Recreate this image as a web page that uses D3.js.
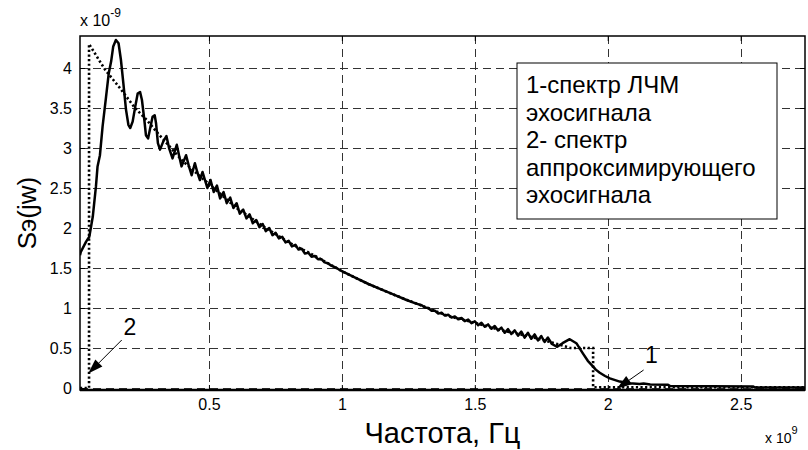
<!DOCTYPE html>
<html>
<head>
<meta charset="utf-8">
<script src="https://cdn.jsdelivr.net/npm/d3@7"></script>
<style>
body { margin: 0; background: #fff; }
text { font-family: Arial, "Liberation Sans", sans-serif; fill: #000; }
</style>
</head>
<body>
<svg></svg>
<script>
// frequency in units of 1e9 Hz, spectrum in units of 1e-9
var xTicks = [0.5, 1, 1.5, 2, 2.5];
var yTicks = [0, 0.5, 1, 1.5, 2, 2.5, 3, 3.5, 4];

// 1 - spectrum of the LFM echo signal (solid)
var echoSpectrum = [
    [0.015, 1.66], [0.018, 1.70], [0.038, 1.83], [0.050, 1.89], [0.063, 2.14], [0.075, 2.52],
    [0.081, 2.77], [0.090, 2.91], [0.100, 3.27], [0.113, 3.64], [0.123, 3.93], [0.132, 4.08],
    [0.140, 4.27], [0.150, 4.35], [0.160, 4.31], [0.169, 4.10], [0.178, 3.81], [0.188, 3.48],
    [0.197, 3.29], [0.204, 3.25], [0.213, 3.33], [0.223, 3.52], [0.232, 3.68], [0.241, 3.70],
    [0.248, 3.60], [0.257, 3.35], [0.263, 3.16], [0.271, 3.12], [0.278, 3.23], [0.288, 3.39],
    [0.296, 3.41], [0.301, 3.31], [0.308, 3.06], [0.316, 2.98], [0.328, 3.08], [0.340, 3.15],
    [0.350, 3.00], [0.363, 2.87], [0.379, 3.04], [0.388, 2.90], [0.397, 2.77], [0.414, 2.91],
    [0.424, 2.78], [0.435, 2.66], [0.447, 2.81], [0.456, 2.70], [0.466, 2.60], [0.476, 2.70],
    [0.485, 2.60], [0.494, 2.50], [0.506, 2.60], [0.518, 2.45], [0.530, 2.53], [0.542, 2.37],
    [0.555, 2.45], [0.567, 2.31], [0.580, 2.38], [0.592, 2.25], [0.604, 2.31], [0.616, 2.18],
    [0.629, 2.23], [0.641, 2.12], [0.653, 2.17], [0.665, 2.06], [0.678, 2.10], [0.690, 2.01],
    [0.702, 2.05], [0.714, 1.96], [0.727, 2.00], [0.739, 1.91], [0.751, 1.94], [0.763, 1.87],
    [0.776, 1.89], [0.788, 1.82], [0.800, 1.84], [0.812, 1.77], [0.825, 1.79], [0.837, 1.73],
    [0.849, 1.74], [0.861, 1.68], [0.874, 1.69], [0.886, 1.64], [0.898, 1.65], [0.910, 1.61],
    [0.923, 1.61], [0.935, 1.57], [0.947, 1.56], [0.960, 1.53], [0.980, 1.50], [1.000, 1.46],
    [1.050, 1.38], [1.100, 1.30], [1.150, 1.23], [1.200, 1.16], [1.243, 1.10], [1.280, 1.055],
    [1.300, 1.035], [1.3125, 1.005], [1.325, 1.0], [1.3375, 0.965], [1.350, 0.965], [1.3625, 0.93],
    [1.375, 0.94], [1.3875, 0.905], [1.400, 0.915], [1.4125, 0.88], [1.425, 0.895], [1.4375, 0.86],
    [1.450, 0.875], [1.4625, 0.835], [1.475, 0.855], [1.4875, 0.81], [1.500, 0.835], [1.5125, 0.785],
    [1.525, 0.815], [1.5375, 0.765], [1.550, 0.795], [1.5625, 0.74], [1.575, 0.775], [1.5875, 0.72],
    [1.600, 0.755], [1.6125, 0.69], [1.625, 0.735], [1.6375, 0.675], [1.650, 0.72], [1.6625, 0.655],
    [1.675, 0.705], [1.6875, 0.63], [1.700, 0.69], [1.7125, 0.615], [1.725, 0.67], [1.7375, 0.595],
    [1.750, 0.65], [1.7625, 0.575], [1.775, 0.63], [1.790, 0.55], [1.810, 0.515], [1.830, 0.56],
    [1.857, 0.61], [1.882, 0.56], [1.907, 0.43], [1.925, 0.34], [1.939, 0.29], [1.955, 0.23],
    [1.970, 0.19], [1.990, 0.15], [2.008, 0.12], [2.045, 0.08], [2.083, 0.06], [2.120, 0.05],
    [2.135, 0.055], [2.160, 0.045], [2.227, 0.04], [2.235, 0.025], [2.546, 0.02], [2.555, 0.005],
    [2.742, 0.005]
];

// 2 - spectrum of the approximating echo signal (dotted)
var approxSpectrum = [
    [0.015, 0.0], [0.049, 0.0], [0.049, 4.30], [0.109, 3.98], [0.165, 3.75], [0.222, 3.50],
    [0.266, 3.35], [0.309, 3.18], [0.341, 3.06], [0.400, 2.84], [0.500, 2.55], [0.600, 2.26],
    [0.700, 2.03], [0.800, 1.82], [0.900, 1.65], [1.000, 1.46], [1.100, 1.30], [1.200, 1.16],
    [1.300, 1.03], [1.400, 0.90], [1.500, 0.815], [1.600, 0.72], [1.700, 0.65], [1.800, 0.56],
    [1.860, 0.50], [1.945, 0.50], [1.945, 0.01], [2.742, 0.01]
];

var legendLines = ["1-спектр ЛЧМ", "эхосигнала", "2- спектр", "аппроксимирующего", "эхосигнала"];

var annotations = [
    {label: "2", tip: [0.046, 0.18], tail: [0.172, 0.60], text: [0.203, 0.76]},
    {label: "1", tip: [2.034, -0.01], tail: [2.135, 0.225], text: [2.164, 0.41]}
];

var width = 808, height = 450;
var margin = {top: 36, right: 3, bottom: 60, left: 80};
var w = width - margin.left - margin.right;
var h = height - margin.top - margin.bottom;

var svg = d3.select("svg")
    .attr("width", width)
    .attr("height", height);

var g = svg.append("g")
    .attr("transform", "translate(" + margin.left + "," + margin.top + ")");

var x = d3.scaleLinear().domain([0.015, 2.742]).range([0, w]);
var y = d3.scaleLinear().domain([-0.025, 4.4]).range([h, 0]);

// grid
g.append("g")
    .selectAll("line")
    .data(yTicks)
    .enter()
    .append("line")
    .attr("x1", 0)
    .attr("x2", w)
    .attr("y1", function (d) { return Math.round(y(d)) + 0.5; })
    .attr("y2", function (d) { return Math.round(y(d)) + 0.5; })
    .attr("stroke", "#333")
    .attr("stroke-width", 1)
    .attr("stroke-dasharray", "8,5");

g.append("g")
    .selectAll("line")
    .data(xTicks)
    .enter()
    .append("line")
    .attr("y1", 0)
    .attr("y2", h)
    .attr("x1", function (d) { return Math.round(x(d)) + 0.5; })
    .attr("x2", function (d) { return Math.round(x(d)) + 0.5; })
    .attr("stroke", "#333")
    .attr("stroke-width", 1)
    .attr("stroke-dasharray", "8,5");

// axes with inward ticks
var xAxis = d3.axisBottom(x).tickValues(xTicks).tickSize(-5).tickPadding(9).tickFormat(d3.format(""));
var yAxis = d3.axisLeft(y).tickValues(yTicks).tickSize(-5).tickPadding(8).tickFormat(d3.format(""));

g.append("g")
    .attr("transform", "translate(0," + h + ")")
    .call(xAxis);
g.append("g").call(yAxis);

g.append("g")
    .call(d3.axisTop(x).tickValues(xTicks).tickSize(-5).tickFormat(""));
g.append("g").attr("transform", "translate(" + w + ",0)")
    .call(d3.axisRight(y).tickValues(yTicks).tickSize(-5).tickFormat(""));

g.selectAll(".domain").remove();
g.selectAll(".tick line").attr("stroke", "#000").attr("stroke-width", 1);
g.selectAll(".tick text").style("font-size", "16px").attr("fill", "#000");

// box
g.append("rect")
    .attr("x", 0)
    .attr("y", 0)
    .attr("width", w)
    .attr("height", h)
    .attr("fill", "none")
    .attr("stroke", "#000")
    .attr("stroke-width", 1.5);
g.append("line")
    .attr("x1", 0).attr("x2", w)
    .attr("y1", h).attr("y2", h)
    .attr("stroke", "#000")
    .attr("stroke-width", 2.5);

// curves
g.append("clipPath").attr("id", "clip")
    .append("rect").attr("width", w).attr("height", h + 2);

var line = d3.line()
    .x(function (d) { return x(d[0]); })
    .y(function (d) { return y(d[1]); });

g.append("path")
    .datum(approxSpectrum)
    .attr("clip-path", "url(#clip)")
    .attr("d", line)
    .attr("fill", "none")
    .attr("stroke", "#000")
    .attr("stroke-width", 2.6)
    .attr("stroke-dasharray", "2.2,2.4");

g.append("path")
    .datum(echoSpectrum)
    .attr("clip-path", "url(#clip)")
    .attr("d", line)
    .attr("fill", "none")
    .attr("stroke", "#000")
    .attr("stroke-width", 2.5)
    .attr("stroke-linejoin", "round");

// legend
var legend = g.append("g").attr("transform", "translate(" + (517 - margin.left) + "," + (63 - margin.top) + ")");
legend.append("rect")
    .attr("width", 260)
    .attr("height", 156)
    .attr("fill", "#fff")
    .attr("stroke", "#000")
    .attr("stroke-width", 1);
legend.selectAll("text")
    .data(legendLines)
    .enter()
    .append("text")
    .attr("x", 9)
    .attr("y", function (d, i) { return 30 + i * 27.5; })
    .style("font-size", "24px")
    .text(function (d) { return d; });

// annotations
annotations.forEach(function (a) {
    var x1 = x(a.tail[0]), y1 = y(a.tail[1]);
    var x2 = x(a.tip[0]), y2 = y(a.tip[1]);
    var ang = Math.atan2(y2 - y1, x2 - x1);
    var len = 15, half = 5;
    var bx = x2 - len * Math.cos(ang), by = y2 - len * Math.sin(ang);
    g.append("line")
        .attr("x1", x1).attr("y1", y1)
        .attr("x2", bx).attr("y2", by)
        .attr("stroke", "#000")
        .attr("stroke-width", 1);
    g.append("path")
        .attr("d", "M" + x2 + "," + y2 +
            "L" + (bx - half * Math.sin(ang)) + "," + (by + half * Math.cos(ang)) +
            "L" + (bx + half * Math.sin(ang)) + "," + (by - half * Math.cos(ang)) + "Z")
        .attr("fill", "#000");
    g.append("text")
        .attr("x", x(a.text[0]))
        .attr("y", y(a.text[1]))
        .attr("text-anchor", "middle")
        .attr("dy", "0.35em")
        .style("font-size", "23px")
        .text(a.label);
});

// axis labels
svg.append("text")
    .attr("x", margin.left + w / 2)
    .attr("y", 443)
    .attr("text-anchor", "middle")
    .style("font-size", "29px")
    .text("Частота, Гц");

svg.append("text")
    .attr("transform", "translate(36," + (margin.top + h / 2) + ") rotate(-90)")
    .attr("text-anchor", "middle")
    .style("font-size", "26px")
    .text("Sэ(jw)");

// exponent labels
var e1 = svg.append("text").attr("x", 80).attr("y", 26).style("font-size", "16px");
e1.append("tspan").text("x 10");
e1.append("tspan").attr("dy", -9).style("font-size", "12px").text("-9");

var e2 = svg.append("text").attr("x", 765).attr("y", 443).style("font-size", "14px");
e2.append("tspan").text("x 10");
e2.append("tspan").attr("dy", -9).style("font-size", "11px").text("9");
</script>
</body>
</html>
